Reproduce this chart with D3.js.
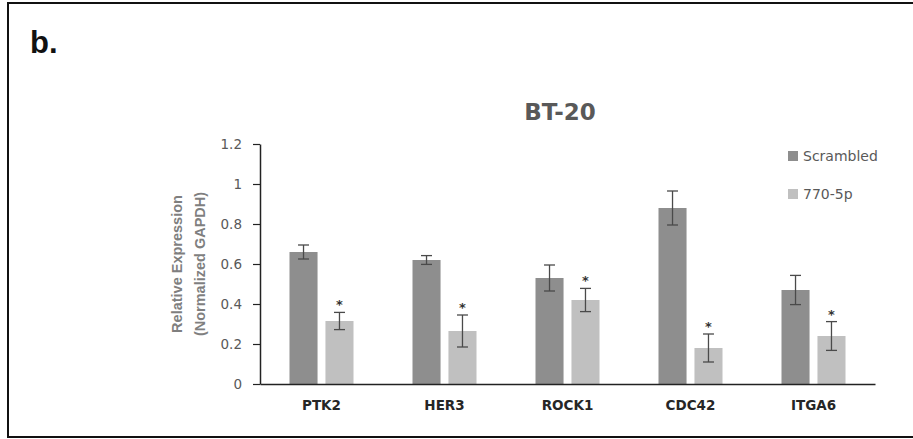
<!DOCTYPE html>
<html>
<head>
<meta charset="utf-8">
<script src="https://cdn.jsdelivr.net/npm/d3@7"></script>
<style>
  body { margin: 0; background: #fff; }
  svg { display: block; }
</style>
</head>
<body>
<script>
// data
var genes = ["PTK2", "HER3", "ROCK1", "CDC42", "ITGA6"];
var series = ["Scrambled", "770-5p"];
var scrambled = [0.66, 0.62, 0.53, 0.88, 0.47];
var scrambledErr = [0.035, 0.022, 0.065, 0.085, 0.073];
var mir = [0.315, 0.265, 0.42, 0.18, 0.24];
var mirErr = [0.043, 0.08, 0.058, 0.07, 0.072];
var yTicks = [0, 0.2, 0.4, 0.6, 0.8, 1, 1.2];

var colors = ["#8e8e8e", "#c0c0c0"];

var W = 913, H = 439;
var svg = d3.select("body").append("svg").attr("width", W).attr("height", H);

// frame
svg.append("rect")
    .attr("x", 8).attr("y", 3)
    .attr("width", 930).attr("height", 434)
    .attr("fill", "none").attr("stroke", "#111").attr("stroke-width", 2);

svg.append("text")
    .attr("x", 30).attr("y", 53)
    .attr("font-family", "Liberation Sans, Arial, sans-serif")
    .attr("font-weight", "bold").attr("font-size", 31)
    .attr("fill", "#111")
    .text("b.");

var plotL = 260, plotR = 875, plotT = 144, plotB = 384;

var x = d3.scaleBand().domain(genes).range([plotL, plotR]).padding(0);
var xs = d3.scaleBand().domain(series).range([0, 64]).paddingInner(0.22);
var y = d3.scaleLinear().domain([0, 1.2]).range([plotB, plotT]);

var rows = genes.map(function (g, i) {
  return [
    {g: g, s: 0, v: scrambled[i], e: scrambledErr[i]},
    {g: g, s: 1, v: mir[i], e: mirErr[i]}
  ];
});
var flat = [].concat.apply([], rows);

var offset = function (d) { return x(d.g) + (x.bandwidth() - 64) / 2 + xs(series[d.s]); };

svg.selectAll("rect.bar")
    .data(flat)
    .enter().append("rect")
        .attr("class", "bar")
        .attr("x", offset)
        .attr("width", xs.bandwidth())
        .attr("y", function (d) { return y(d.v); })
        .attr("height", function (d) { return y(0) - y(d.v); })
        .attr("fill", function (d) { return colors[d.s]; });

// error bars
var eb = svg.selectAll("g.err").data(flat).enter().append("g").attr("class", "err")
    .attr("transform", function (d) { return "translate(" + (offset(d) + xs.bandwidth() / 2) + ",0)"; });
eb.append("line")
    .attr("x1", 0).attr("x2", 0)
    .attr("y1", function (d) { return y(d.v + d.e); })
    .attr("y2", function (d) { return y(d.v - d.e); })
    .attr("stroke", "#4a4a4a").attr("stroke-width", 1.3);
eb.append("line")
    .attr("x1", -5.5).attr("x2", 5.5)
    .attr("y1", function (d) { return y(d.v + d.e); })
    .attr("y2", function (d) { return y(d.v + d.e); })
    .attr("stroke", "#4a4a4a").attr("stroke-width", 1.3);
eb.append("line")
    .attr("x1", -5.5).attr("x2", 5.5)
    .attr("y1", function (d) { return y(d.v - d.e); })
    .attr("y2", function (d) { return y(d.v - d.e); })
    .attr("stroke", "#4a4a4a").attr("stroke-width", 1.3);

// significance stars on the 770-5p bars
svg.selectAll("text.star")
    .data(flat.filter(function (d) { return d.s === 1; }))
    .enter().append("text")
        .attr("class", "star")
        .attr("x", function (d) { return offset(d) + xs.bandwidth() / 2; })
        .attr("y", function (d) { return y(d.v + d.e) - 3; })
        .attr("text-anchor", "middle")
        .attr("font-family", "DejaVu Sans, sans-serif")
        .attr("font-weight", "bold").attr("font-size", 13)
        .attr("fill", "#333")
        .text("*");

// y axis
var yAxis = svg.append("g")
    .attr("transform", "translate(" + plotL + ",0)")
    .call(d3.axisLeft(y).tickValues(yTicks).tickSize(7).tickSizeOuter(0).tickPadding(11)
        .tickFormat(function (d) { return d3.format("~g")(d); }));
yAxis.select(".domain").attr("stroke", "#222").attr("stroke-width", 1.5);
yAxis.selectAll(".tick line").attr("stroke", "#222").attr("stroke-width", 1.2);
yAxis.selectAll(".tick text")
    .attr("font-family", "DejaVu Sans, sans-serif").attr("font-size", 13.5)
    .attr("fill", "#595959");

// x axis
var xAxis = svg.append("g")
    .attr("transform", "translate(0," + plotB + ")")
    .call(d3.axisBottom(x).tickSize(0).tickSizeOuter(0).tickPadding(16));
xAxis.select(".domain").attr("stroke", "#222").attr("stroke-width", 1.5);
xAxis.selectAll(".tick text")
    .attr("font-family", "DejaVu Sans, sans-serif").attr("font-weight", "bold")
    .attr("font-size", 13.5).attr("fill", "#262626");

// y title
var yt = svg.append("text")
    .attr("transform", "translate(0," + y(0.6) + ") rotate(-90)")
    .attr("text-anchor", "middle")
    .attr("font-family", "Liberation Sans, Arial, sans-serif")
    .attr("font-weight", "bold").attr("font-size", 14.5)
    .attr("fill", "#7f7f7f");
yt.append("tspan").attr("x", 0).attr("y", 182).text("Relative Expression");
yt.append("tspan").attr("x", 0).attr("y", 205).text("(Normalized GAPDH)");

// title
svg.append("text")
    .attr("x", 560).attr("y", 120)
    .attr("text-anchor", "middle")
    .attr("font-family", "DejaVu Sans, sans-serif")
    .attr("font-weight", "bold").attr("font-size", 23)
    .attr("fill", "#595959")
    .text("BT-20");

// legend
var lg = svg.selectAll("g.legend").data(series).enter().append("g").attr("class", "legend")
    .attr("transform", function (d, i) { return "translate(788," + (156 + i * 38) + ")"; });
lg.append("rect")
    .attr("x", 0).attr("y", -5).attr("width", 10).attr("height", 10)
    .attr("fill", function (d, i) { return colors[i]; });
lg.append("text")
    .attr("x", 15).attr("y", 5)
    .attr("font-family", "DejaVu Sans, sans-serif").attr("font-size", 14)
    .attr("fill", "#595959")
    .text(function (d) { return d; });
</script>
</body>
</html>
